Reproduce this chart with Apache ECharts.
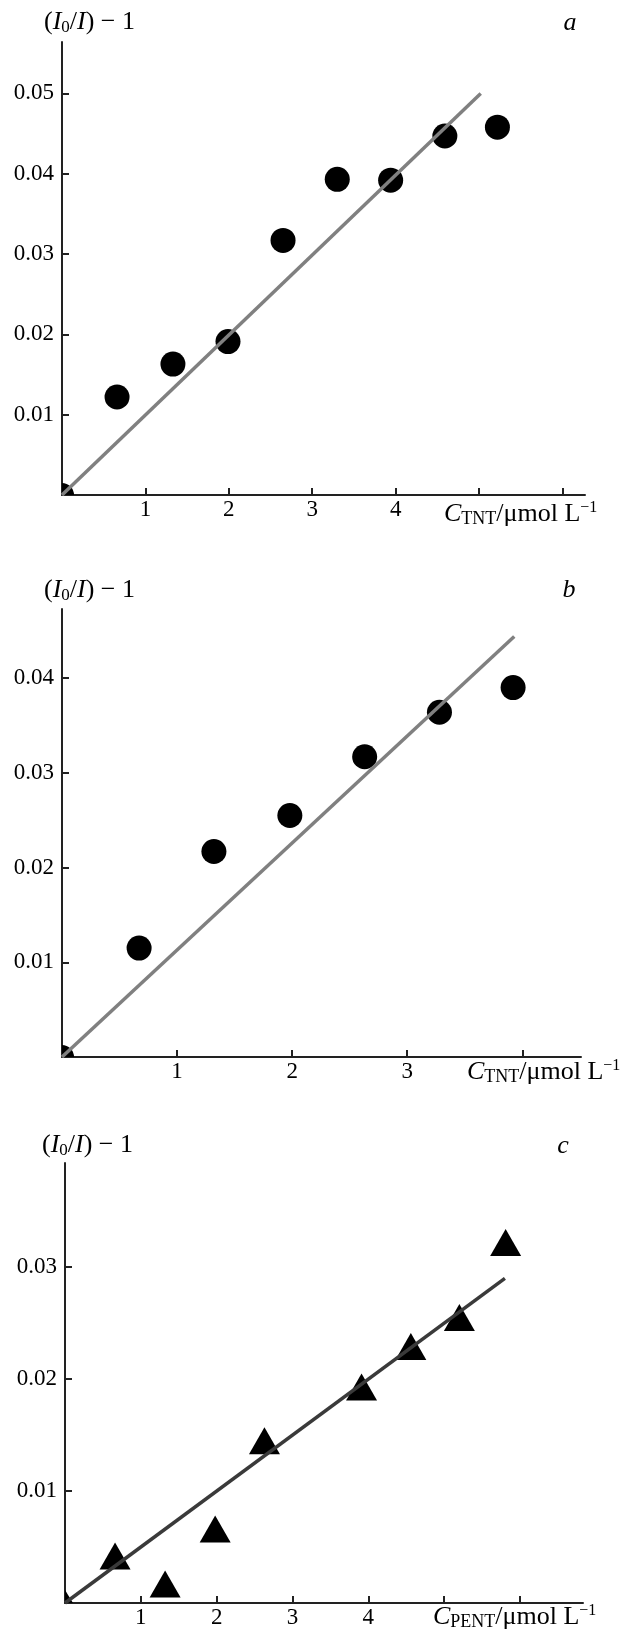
<!DOCTYPE html>
<html>
<head>
<meta charset="utf-8">
<script src="https://cdn.jsdelivr.net/npm/echarts@6/dist/echarts.min.js"></script>
<style>
html,body{margin:0;padding:0;background:#fff;}
#chart{width:623px;height:1629px;}
</style>
</head>
<body>
<div id="chart"></div>
<script>
// panel a - TNT
var tntAx = [0, 0.66, 1.33, 1.99, 2.65, 3.30, 3.94, 4.59, 5.22];
var tntAy = [0, 0.0122, 0.0163, 0.0191, 0.0317, 0.0393, 0.0392, 0.0447, 0.0458];
var fitA = [[0, 0], [5.02, 0.0500]];
// panel b - TNT
var tntBx = [0, 0.67, 1.32, 1.98, 2.63, 3.28, 3.92];
var tntBy = [0, 0.0115, 0.0217, 0.0255, 0.0317, 0.0364, 0.0390];
var fitB = [[0, 0], [3.93, 0.0444]];
// panel c - PENT
var pentX = [0, 0.66, 1.32, 1.98, 2.63, 3.91, 4.56, 5.20, 5.81];
var pentY = [0, 0.0042, 0.0017, 0.0066, 0.0145, 0.0193, 0.0229, 0.0255, 0.0322];
var fitC = [[0, 0], [5.80, 0.0290]];
// ticks
var xTicksA = [1, 2, 3, 4, 5, 6], xLabelsA = [1, 2, 3, 4];
var xTicksB = [1, 2, 3, 4], xLabelsB = [1, 2, 3];
var xTicksC = [1, 2, 3, 4, 5, 6], xLabelsC = [1, 2, 3, 4];
var yTicksA = [0.01, 0.02, 0.03, 0.04, 0.05];
var yTicksB = [0.01, 0.02, 0.03, 0.04];
var yTicksC = [0.01, 0.02, 0.03];

// the point sitting on the origin is cut by the axes, only the part inside the plot shows
var quarterDot = 'path://M0,0L0,-100A100,100 0 0,1 100,0Z';
var cornerTri = 'path://M0,0L0,-135L77,0Z';

function pairs(xs, ys, originSymbol, originSize){
	var out = [];
	for (var i = 0; i < xs.length; i++) {
		if (xs[i] === 0 && ys[i] === 0) {
			out.push({value: [0, 0], symbol: originSymbol, symbolSize: originSize,
				symbolKeepAspect: false, symbolOffset: [originSize[0] / 2, -originSize[1] / 2]});
		} else {
			out.push([xs[i], ys[i]]);
		}
	}
	return out;
}

var FONT = 'Liberation Serif';
var axisCol = '#222';

function xAx(idx, max, ticks, labels){
	return {
		type: 'value', gridIndex: idx, min: 0, max: max, interval: 1,
		axisLine: {show: true, lineStyle: {color: axisCol, width: 2}},
		axisTick: {show: true, inside: true, length: 7, customValues: ticks, lineStyle: {color: axisCol, width: 2}},
		axisLabel: {customValues: labels, margin: 3, color: '#000', fontFamily: FONT, fontSize: 23},
		splitLine: {show: false}
	};
}
function yAx(idx, max, ticks){
	return {
		type: 'value', gridIndex: idx, min: 0, max: max, interval: 0.01,
		axisLine: {show: true, lineStyle: {color: axisCol, width: 2}},
		axisTick: {show: true, inside: true, length: 7, customValues: ticks, lineStyle: {color: axisCol, width: 2}},
		axisLabel: {customValues: ticks, margin: 8, color: '#000', fontFamily: FONT, fontSize: 23,
			formatter: function(v){ return v.toFixed(2); }},
		splitLine: {show: false}
	};
}

var yRich = {
	p: {fontFamily: FONT, fontSize: 26, fill: '#000', lineHeight: 28},
	i: {fontFamily: FONT, fontSize: 26, fontStyle: 'italic', fill: '#000', lineHeight: 28},
	s: {fontFamily: FONT, fontSize: 17, fill: '#000', verticalAlign: 'bottom', lineHeight: 16}
};
var xRich = {
	p: {fontFamily: FONT, fontSize: 26, fill: '#000', lineHeight: 28},
	i: {fontFamily: FONT, fontSize: 26, fontStyle: 'italic', fill: '#000', lineHeight: 28},
	s: {fontFamily: FONT, fontSize: 18, fill: '#000', verticalAlign: 'bottom', lineHeight: 17},
	u: {fontFamily: FONT, fontSize: 16, fill: '#000', verticalAlign: 'top', lineHeight: 15}
};
function txt(x, y, text, rich){
	return {type: 'text', x: x, y: y, style: {text: text, rich: rich, textVerticalAlign: 'middle'}};
}
function letter(x, y, s){
	return {type: 'text', x: x, y: y, style: {text: s, fontFamily: FONT, fontSize: 26, fontStyle: 'italic', fill: '#000',
		textAlign: 'center', textVerticalAlign: 'middle'}};
}
var yName = '{p|(}{i|I}{s|0}{p|/}{i|I}{p|) \u2212 1}';

var myChart = echarts.init(document.getElementById('chart'));
var option = {
	backgroundColor: '#fff',
	animation: false,
	grid: [
		{left: 62, top: 42, width: 523, height: 453},
		{left: 62, top: 609, width: 519, height: 448},
		{left: 65, top: 1163, width: 518, height: 445}
	],
	xAxis: [
		xAx(0, 6.27, xTicksA, xLabelsA),
		xAx(1, 4.51, xTicksB, xLabelsB),
		xAx(2, 6.83, xTicksC, xLabelsC)
	],
	yAxis: [
		yAx(0, 0.0564, yTicksA),
		yAx(1, 0.0473, yTicksB),
		yAx(2, 0.0393, yTicksC)
	],
	graphic: [
		txt(44, 22, yName, yRich),
		txt(44, 590, yName, yRich),
		txt(42, 1145, yName, yRich),
		letter(570, 23, 'a'),
		letter(569, 590, 'b'),
		letter(563, 1146, 'c'),
		txt(444, 514, '{i|C}{s|TNT}{p|/\u03bcmol L}{u|\u22121}', xRich),
		txt(467, 1072, '{i|C}{s|TNT}{p|/\u03bcmol L}{u|\u22121}', xRich),
		txt(433, 1617, '{i|C}{s|PENT}{p|/\u03bcmol L}{u|\u22121}', xRich)
	],
	series: [
		{type: 'scatter', xAxisIndex: 0, yAxisIndex: 0, symbol: 'circle', symbolSize: 25,
			itemStyle: {color: '#000', opacity: 1}, data: pairs(tntAx, tntAy, quarterDot, [12, 12])},
		{type: 'scatter', xAxisIndex: 1, yAxisIndex: 1, symbol: 'circle', symbolSize: 25,
			itemStyle: {color: '#000', opacity: 1}, data: pairs(tntBx, tntBy, quarterDot, [12, 12])},
		{type: 'scatter', xAxisIndex: 2, yAxisIndex: 2, symbol: 'triangle', symbolSize: [31, 27],
			itemStyle: {color: '#000', opacity: 1}, data: pairs(pentX, pentY, cornerTri, [8, 13])},
		{type: 'line', xAxisIndex: 0, yAxisIndex: 0, symbol: 'none', z: 3,
			lineStyle: {color: '#808080', width: 3.5}, data: fitA},
		{type: 'line', xAxisIndex: 1, yAxisIndex: 1, symbol: 'none', z: 3,
			lineStyle: {color: '#808080', width: 3.5}, data: fitB},
		{type: 'line', xAxisIndex: 2, yAxisIndex: 2, symbol: 'none', z: 3,
			lineStyle: {color: '#3a3a3a', width: 3.5}, data: fitC}
	]
};
myChart.setOption(option);
</script>
</body>
</html>
